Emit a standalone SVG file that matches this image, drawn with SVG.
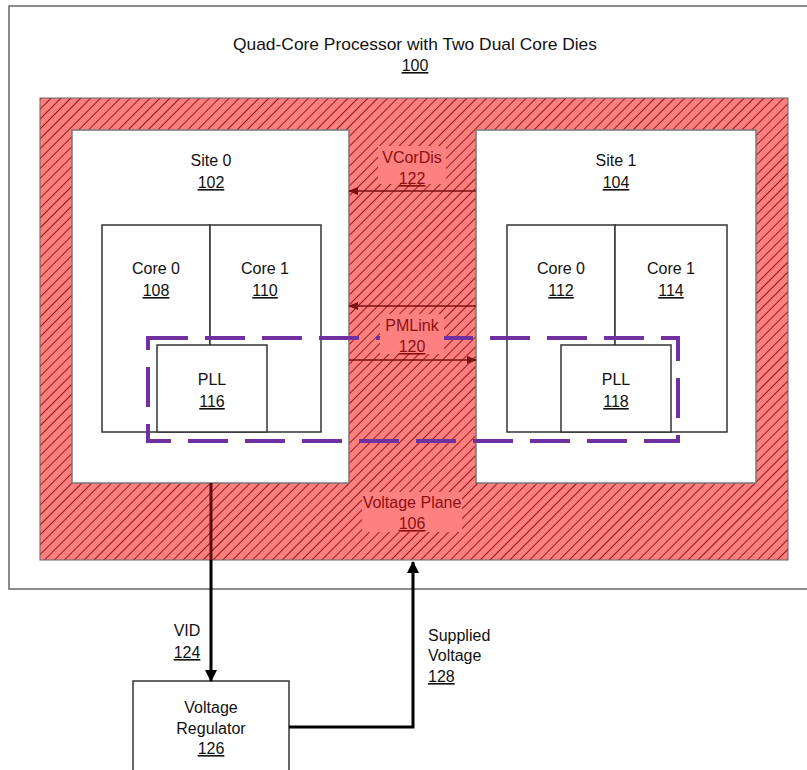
<svg xmlns="http://www.w3.org/2000/svg" width="807" height="770" viewBox="0 0 807 770">
<defs>
<pattern id="hatch" patternUnits="userSpaceOnUse" width="7" height="7" patternTransform="rotate(45)">
<rect width="7" height="7" fill="#ff7f7f"/>
<line x1="0" y1="0" x2="0" y2="7" stroke="#8a1c1c" stroke-width="2"/>
</pattern>
<marker id="ahr" markerWidth="10" markerHeight="8" refX="9" refY="4" orient="auto" markerUnits="userSpaceOnUse">
<path d="M0,0 L10,4 L0,8 z" fill="#7a1010"/>
</marker>
<marker id="ahb" markerWidth="12" markerHeight="12" refX="11" refY="6" orient="auto" markerUnits="userSpaceOnUse">
<path d="M0,0 L12,6 L0,12 z" fill="#000"/>
</marker>
</defs>
<style>
text{font-family:"Liberation Sans",Arial,sans-serif;font-size:16px;fill:#111;text-anchor:middle}
.red{fill:#8a1010}
.u{text-decoration:underline}
.box{fill:#fff;stroke:#333;stroke-width:1.5}
.gray{fill:#fff;stroke:#777;stroke-width:1.5}
.lbl{fill:#ff8080}
.dash{fill:none;stroke:#7030a0;stroke-width:4;stroke-dasharray:40 17}
</style>
<g id="processor">
<rect x="9" y="6" width="810" height="583" fill="#fff" stroke="#666" stroke-width="1.5"/>
<text x="415" y="50" style="font-size:17px" textLength="364" lengthAdjust="spacingAndGlyphs">Quad-Core Processor with Two Dual Core Dies</text>
<text x="415" y="71" class="u">100</text>
</g>
<g id="voltage-plane">
<rect x="40" y="98" width="748" height="462" fill="url(#hatch)" stroke="#666" stroke-width="1"/>
<rect x="362" y="492" width="100" height="40" class="lbl"/>
<text x="412" y="508" class="red">Voltage Plane</text>
<text x="412" y="529" class="red u">106</text>
</g>
<g id="site0">
<rect x="72" y="130" width="277" height="353" class="gray"/>
<text x="211" y="166">Site 0</text>
<text x="211" y="188" class="u">102</text>
</g>
<g id="site1">
<rect x="476" y="130" width="280" height="353" class="gray"/>
<text x="616" y="166">Site 1</text>
<text x="616" y="188" class="u">104</text>
</g>
<g id="core108">
<rect x="102" y="225" width="108" height="207" class="box"/>
<text x="156" y="274">Core 0</text>
<text x="156" y="296" class="u">108</text>
</g>
<g id="core110">
<rect x="210" y="225" width="111" height="207" class="box"/>
<text x="265" y="274">Core 1</text>
<text x="265" y="296" class="u">110</text>
</g>
<g id="pll116">
<rect x="157" y="345" width="110" height="87" class="box"/>
<text x="212" y="385">PLL</text>
<text x="212" y="407" class="u">116</text>
</g>
<g id="core112">
<rect x="507" y="225" width="108" height="207" class="box"/>
<text x="561" y="274">Core 0</text>
<text x="561" y="296" class="u">112</text>
</g>
<g id="core114">
<rect x="615" y="225" width="112" height="207" class="box"/>
<text x="671" y="274">Core 1</text>
<text x="671" y="296" class="u">114</text>
</g>
<g id="pll118">
<rect x="561" y="345" width="110" height="87" class="box"/>
<text x="616" y="385">PLL</text>
<text x="616" y="407" class="u">118</text>
</g>
<g id="pll-domain">
<rect x="148" y="338" width="530" height="103" class="dash"/>
</g>
<g id="regulator">
<rect x="133" y="681" width="156" height="100" class="box"/>
<text x="211" y="713">Voltage</text>
<text x="211" y="734">Regulator</text>
<text x="211" y="754" class="u">126</text>
</g>
<g id="connectors">
<rect x="378" y="146" width="68" height="38" class="lbl"/>
<text x="412" y="163" class="red">VCorDis</text>
<text x="412" y="184" class="red u">122</text>
<line x1="476" y1="191" x2="349" y2="191" stroke="#7a1010" stroke-width="1.5" marker-end="url(#ahr)"/>
<line x1="476" y1="306" x2="349" y2="306" stroke="#7a1010" stroke-width="1.5" marker-end="url(#ahr)"/>
<rect x="380" y="314" width="64" height="40" class="lbl"/>
<text x="412" y="331" class="red">PMLink</text>
<text x="412" y="352" class="red u">120</text>
<line x1="349" y1="360" x2="476" y2="360" stroke="#7a1010" stroke-width="1.5" marker-end="url(#ahr)"/>
<line x1="211" y1="483" x2="211" y2="560" stroke="#5a0a0a" stroke-width="3"/>
<line x1="211" y1="560" x2="211" y2="681" stroke="#000" stroke-width="3" marker-end="url(#ahb)"/>
<text x="187" y="636">VID</text>
<text x="187" y="658" class="u">124</text>
<polyline points="289,727 413,727 413,562" fill="none" stroke="#000" stroke-width="3" marker-end="url(#ahb)"/>
<text x="428" y="641" style="text-anchor:start">Supplied</text>
<text x="428" y="661" style="text-anchor:start">Voltage</text>
<text x="428" y="682" class="u" style="text-anchor:start">128</text>
</g>
</svg>
